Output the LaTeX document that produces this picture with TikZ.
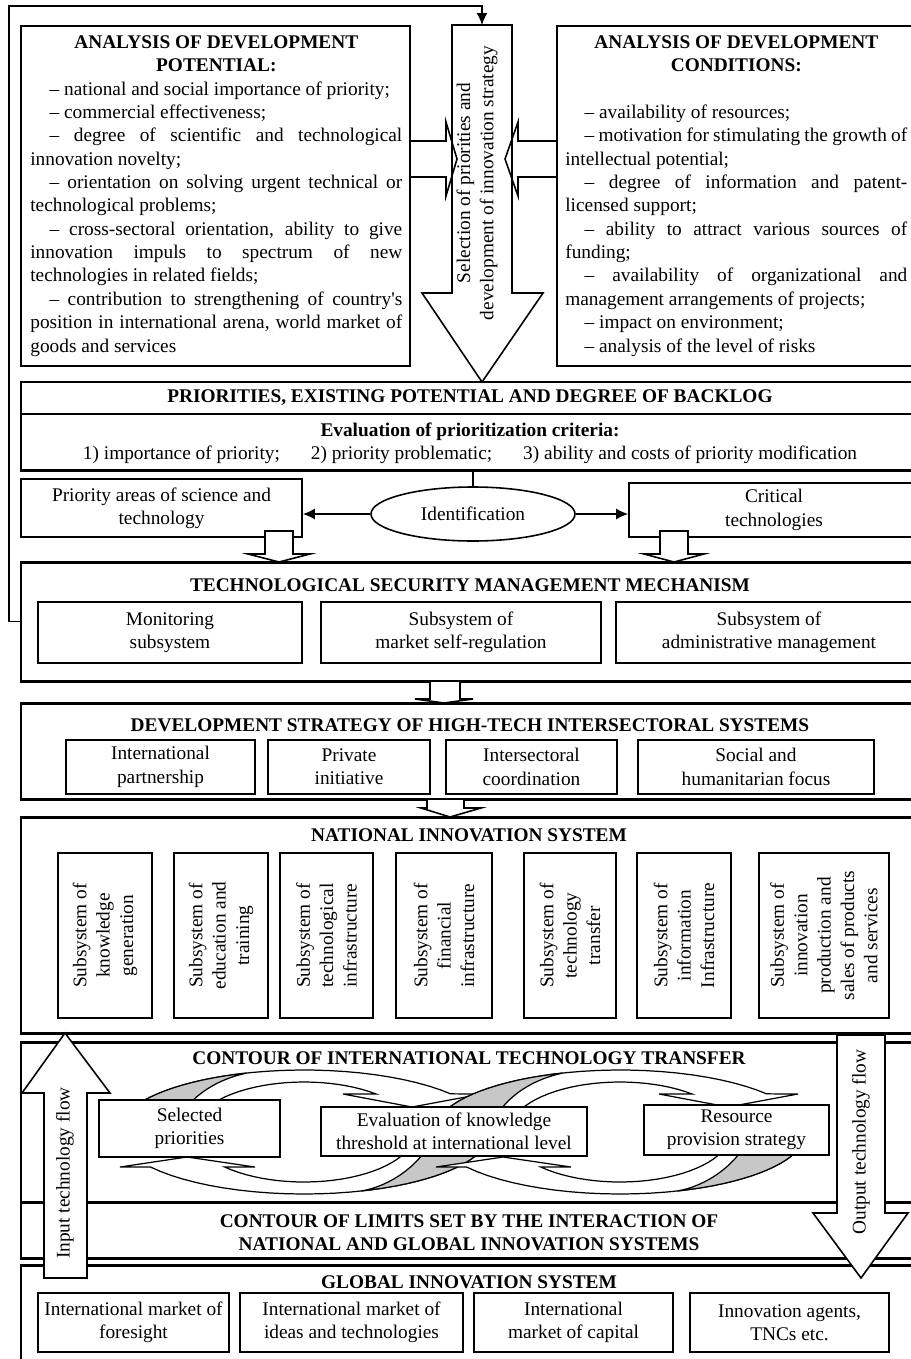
\documentclass[tikz,border=0pt]{standalone}
\usepackage{fontspec}
\setmainfont{Liberation Serif}
\usetikzlibrary{
    arrows.meta,
    fit,
    shapes.geometric
}

\tikzset{
  every node/.style={font=\fontsize{11}{13.3}\selectfont, inner sep=0pt},
  box/.style={draw, line width=0.9pt, fill=white},
  lbl/.style={align=center},
  sect/.style={draw, line width=1.7pt},
  ttl/.style={font=\fontsize{11}{13.3}\selectfont\bfseries, align=center},
  vtext/.style={rotate=90, align=center},
  blk/.style={draw, line width=0.9pt, fill=white},
  ribbon/.style={draw, line width=0.7pt, fill=white},
  ribgray/.style={draw, line width=0.7pt, fill=black!22},
  conn/.style={line width=0.9pt, -{Latex[length=2.4mm, width=2.2mm]}}
}

\begin{document}
\begin{tikzpicture}[x=0.02cm, y=-0.02cm]
\useasboundingbox (0,0) rectangle (910,1359);

% Analysis boxes
\node[box, line width=1pt, fit={(21,26) (410,366)}] (potBox) {};
\node[box, line width=1pt, fit={(557,26) (921,366)}] (condBox) {};

\node[anchor=north west, text width=7.44cm, align=justify] (potTxt) at (30,31.6) {\strut{\centering\bfseries ANALYSIS OF DEVELOPMENT\\POTENTIAL:\par}
\hspace*{1em}– national and social importance of priority;\par
\hspace*{1em}– commercial effectiveness;\par
\hspace*{1em}– degree of scientific and technological\linebreak innovation novelty;\par
\hspace*{1em}– orientation on solving urgent technical or\linebreak technological problems;\par
\hspace*{1em}– cross-sectoral orientation, ability to give\linebreak innovation impuls to spectrum of new\linebreak technologies in related fields;\par
\hspace*{1em}– contribution to strengthening of country\textquotesingle s\linebreak position in international arena, world market of\linebreak goods and services};

\node[anchor=north west, text width=6.84cm, align=justify] (condTxt) at (565,31.6) {\strut{\centering\bfseries ANALYSIS OF DEVELOPMENT\\CONDITIONS:\par}
\mbox{}\par
\hspace*{1em}– availability of resources;\par
\hspace*{1em}– motivation for stimulating the growth of\linebreak intellectual potential;\par
\hspace*{1em}– degree of information and patent-\linebreak licensed support;\par
\hspace*{1em}– ability to attract various sources of\linebreak funding;\par
\hspace*{1em}– availability of organizational and\linebreak management arrangements of projects;\par
\hspace*{1em}– impact on environment;\par
\hspace*{1em}– analysis of the level of risks};

% Selection arrow
\coordinate (selTop) at (482,25);
\draw[blk] (452,25) -- (512,25) -- (512,293) -- (543,293) -- (482,382)
  -- (422,293) -- (452,293) -- cycle;
\node[vtext] (selTxt) at (477,183) {Selection of priorities and\\development of innovation strategy};
\draw[line width=0.9pt] (410,141) -- (446,141) -- (446,122) -- (457,159)
  -- (446,196) -- (446,177) -- (410,177);
\draw[line width=0.9pt] (557,141) -- (518,141) -- (518,122) -- (505,159)
  -- (518,196) -- (518,177) -- (557,177);

% Priorities
\node[box, fit={(21,382) (919,414)}] (prioBox) {};
\node[ttl] (prioTtl) at (470,398) {PRIORITIES, EXISTING POTENTIAL AND DEGREE OF BACKLOG};
\node[box, fit={(21,414) (919,470)}] (evalBox) {};
\draw[line width=1.6pt] (evalBox.south west) -- (evalBox.south east);
\node[lbl] (evalTxt) at (470,443) {\textbf{Evaluation of prioritization criteria:}\\
  1) importance of priority;\hspace{1.6em}2) priority problematic;\hspace{1.6em}3) ability and costs of priority modification};

\node[box, fit={(21,479) (302,537)}] (areas) {};
\node[lbl] (areasTxt) at (areas) {Priority areas of science and\\technology};
\node[box, fit={(629,483) (919,537)}] (crit) {};
\node[lbl] (critTxt) at (crit) {Critical\\technologies};
\node[draw, line width=0.9pt, ellipse, minimum width=204*0.02cm, minimum height=54*0.02cm] (ident) at (473,514) {Identification};
\draw[line width=0.9pt] (ident.north) -- (ident.north |- evalBox.south);
\draw[conn] (ident.west) -- (ident.west -| areas.east);
\draw[conn] (ident.east) -- (ident.east -| crit.west);

% Technological security management mechanism
\node[sect, fit={(21,562) (919,681)}] (tsmm) {};
\node[ttl] (tsmmTtl) at (470,585) {TECHNOLOGICAL SECURITY MANAGEMENT MECHANISM};
\node[box, fit={(38,602) (302,663)}] (monit) {};
\node[lbl] (monitTxt) at (monit) {Monitoring\\subsystem};
\node[box, fit={(321,602) (601,663)}] (market) {};
\node[lbl] (marketTxt) at (market) {Subsystem of\\market self-regulation};
\node[box, fit={(616,602) (922,663)}] (admin) {};
\node[lbl] (adminTxt) at (admin) {Subsystem of\\administrative management};

\draw[blk] (265,531) -- (293,531) -- (293,554) -- (310,554) -- (279,562)
  -- (248,554) -- (265,554) -- cycle;
\draw[blk] (660,531) -- (688,531) -- (688,554) -- (704,554) -- (674,562)
  -- (644,554) -- (660,554) -- cycle;

% Feedback
\coordinate (fbCorner) at (9,6);
\draw[conn, line width=0.8pt] (tsmm.west) -| (fbCorner) -| (selTop);

% Development strategy
\node[sect, fit={(21,703) (919,799)}] (dev) {};
\node[ttl] (devTtl) at (470,725) {DEVELOPMENT STRATEGY OF HIGH-TECH INTERSECTORAL SYSTEMS};
\node[box, fit={(66,740) (255,794)}] (partner) {};
\node[lbl] (partnerTxt) at (partner) {International\\partnership};
\node[box, fit={(268,740) (430,794)}] (private) {};
\node[lbl] (privateTxt) at (private) {Private\\initiative};
\node[box, fit={(446,740) (617,794)}] (coord) {};
\node[lbl] (coordTxt) at (coord) {Intersectoral\\coordination};
\node[box, fit={(638,740) (874,794)}] (social) {};
\node[lbl] (socialTxt) at (social) {Social and\\humanitarian focus};
\draw[blk] (430,681) -- (460,681) -- (460,699) -- (473,699) -- (444,703)
  -- (415,699) -- (430,699) -- cycle;

% National innovation system
\node[sect, fit={(21,817) (919,1033)}] (nis) {};
\node[ttl] (nisTtl) at (469,835) {NATIONAL INNOVATION SYSTEM};
\draw[blk] (427,799) -- (464,799) -- (464,808) -- (481,808) -- (450,817)
  -- (421,808) -- (427,808) -- cycle;
\node[box, fit={(58,853) (152,1018)}] (nis1) {};
\node[box, fit={(174,853) (268,1018)}] (nis2) {};
\node[box, fit={(280,853) (373,1018)}] (nis3) {};
\node[box, fit={(396,853) (492,1018)}] (nis4) {};
\node[box, fit={(524,853) (616,1018)}] (nis5) {};
\node[box, fit={(637,853) (731,1018)}] (nis6) {};
\node[box, fit={(759,853) (889,1018)}] (nis7) {};
\node[vtext] (nisTxt1) at (nis1) {Subsystem of\\knowledge\\generation};
\node[vtext] (nisTxt2) at (nis2) {Subsystem of\\education and\\training};
\node[vtext] (nisTxt3) at (nis3) {Subsystem of\\technological\\infrastructure};
\node[vtext] (nisTxt4) at (nis4) {Subsystem of\\financial\\infrastructure};
\node[vtext] (nisTxt5) at (nis5) {Subsystem of\\technology\\transfer};
\node[vtext] (nisTxt6) at (nis6) {Subsystem of\\information\\Infrastructure};
\node[vtext] (nisTxt7) at (nis7) {Subsystem of\\innovation\\production and\\sales of products\\and services};

% Contours
\node[sect, fit={(21,1042) (919,1202)}] (itt) {};
\node[ttl] (ittTtl) at (469,1058) {CONTOUR OF INTERNATIONAL TECHNOLOGY TRANSFER};
\node[sect, fit={(21,1202) (919,1258)}] (limits) {};
\node[ttl] (limTtl) at (469,1233) {CONTOUR OF LIMITS SET BY THE INTERACTION OF\\NATIONAL AND GLOBAL INNOVATION SYSTEMS};

% Circular arrows
\foreach \dx in {0,316} {
\begin{scope}[shift={(\dx,0)}]
\draw[ribbon] plot[domain=180:322, samples=30, variable=\t] ({304+186*cos(\t)}, {1132+62*sin(\t)})
  -- (482,1094) -- (412,1107) -- (343,1094)
  -- plot[domain=310.5:180, samples=30, variable=\t] ({304+111*cos(\t)}, {1132+50*sin(\t)}) -- cycle;
\draw[ribgray] plot[domain=180:252, samples=20, variable=\t] ({304+186*cos(\t)}, {1132+62*sin(\t)})
  .. controls (215,1080) and (185,1098) .. (172,1132) -- cycle;
\draw[ribbon] plot[domain=0:145.6, samples=30, variable=\t] ({304+186*cos(\t)}, {1132+62*sin(\t)})
  -- (120,1167) -- (187,1157) -- (255,1167)
  -- plot[domain=135.6:0, samples=30, variable=\t] ({304+111*cos(\t)}, {1132+50*sin(\t)}) -- cycle;
\draw[ribgray] plot[domain=0:72, samples=20, variable=\t] ({304+186*cos(\t)}, {1132+62*sin(\t)})
  .. controls (395,1185) and (425,1160) .. (436,1132) -- cycle;
\end{scope}
}
\node[box, fit={(99,1100) (280,1157)}] (selected) {};
\node[lbl] (selectedTxt) at (selected) {Selected\\priorities};
\node[box, fit={(321,1107) (587,1156)}] (evalKnow) {};
\node[lbl] (evalKnowTxt) at (evalKnow) {Evaluation of knowledge\\threshold at international level};
\node[box, fit={(644,1105) (829,1155)}] (resource) {};
\node[lbl] (resourceTxt) at (resource) {Resource\\provision strategy};

% Global innovation system
\node[sect, fit={(21,1265) (919,1375)}] (gis) {};
\node[ttl] (gisTtl) at (469,1282) {GLOBAL INNOVATION SYSTEM};
\node[box, fit={(38,1293) (229,1352)}] (foresight) {};
\node[lbl] (foresightTxt) at (foresight) {International market of\\foresight};
\node[box, fit={(240,1293) (463,1352)}] (ideas) {};
\node[lbl] (ideasTxt) at (ideas) {International market of\\ideas and technologies};
\node[box, fit={(474,1293) (673,1352)}] (capital) {};
\node[lbl] (capitalTxt) at (capital) {International\\market of capital};
\node[box, fit={(690,1293) (889,1352)}] (agents) {};
\node[lbl] (agentsTxt) at (agents) {Innovation agents,\\TNCs etc.};

% Technology flows
\draw[blk] (44,1278) -- (44,1093) -- (22,1093) -- (65,1033) -- (110,1093)
  -- (87,1093) -- (87,1278) -- cycle;
\node[vtext] (inTxt) at (65,1173) {Input technology flow};
\draw[blk] (837,1035) -- (885,1035) -- (885,1213) -- (908,1213) -- (861,1278)
  -- (813,1213) -- (837,1213) -- cycle;
\node[vtext] (outTxt) at (861,1142) {Output technology flow};
\end{tikzpicture}
\end{document}
